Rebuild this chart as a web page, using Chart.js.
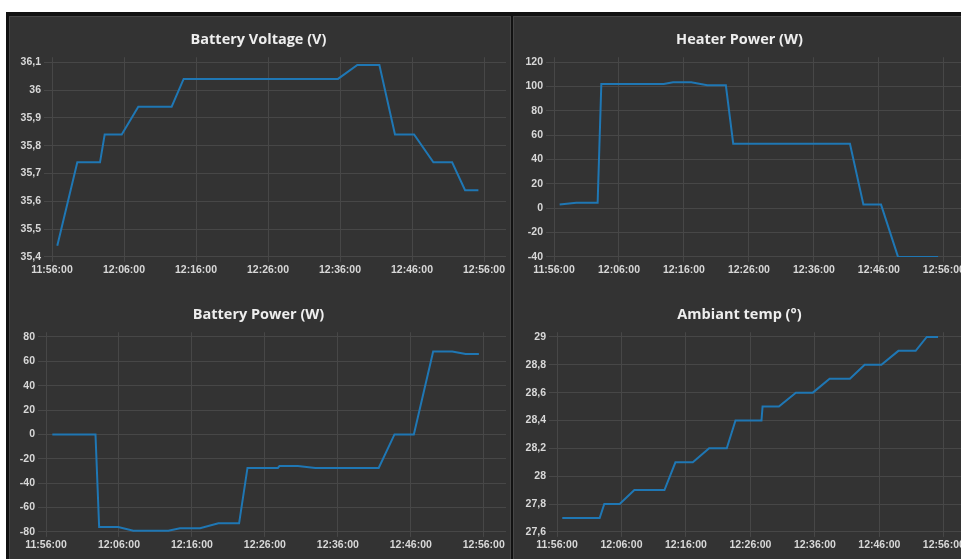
<!DOCTYPE html>
<html>
<head>
<meta charset="utf-8">
<script src="https://cdn.jsdelivr.net/npm/chart.js@4.4.1/dist/chart.umd.min.js"></script>
<style>
  html, body { margin: 0; padding: 0; background: #fff; overflow: hidden; width: 961px; height: 559px; }
  #frame { position: absolute; left: 6px; top: 12px; width: 1000px; height: 600px; background: #111; }
  .panel { position: absolute; top: 4px; height: 600px; background: #333; border: 1px solid #464646; box-sizing: border-box; }
  .box { position: absolute; }
</style>
</head>
<body>
<div id="frame">
  <div class="panel" style="left:3px; width:502px;"></div>
  <div class="panel" style="left:507px; width:456px;"></div>
</div>
<div class="box" style="left:11px; top:17px; width:498px; height:275px;"><canvas id="voltage"></canvas></div>
<div class="box" style="left:515px; top:17px; width:452px; height:275px;"><canvas id="heater"></canvas></div>
<div class="box" style="left:11px; top:292px; width:498px; height:275px;"><canvas id="power"></canvas></div>
<div class="box" style="left:515px; top:292px; width:452px; height:275px;"><canvas id="ambiant"></canvas></div>
<script>
// time ticks shared by all four charts
var xTicks = ['11:56:00', '12:06:00', '12:16:00', '12:26:00', '12:36:00', '12:46:00', '12:56:00'];
var xEnd = '12:59:03';

// Battery Voltage (V)
var voltTimes = ['11:56:44', '11:59:31', '12:02:40', '12:03:19', '12:05:41', '12:07:59', '12:12:37', '12:14:17',
  '12:35:43', '12:38:24', '12:41:28', '12:43:38', '12:46:17', '12:48:58', '12:51:34', '12:53:22', '12:55:13'];
var voltValues = [35.44, 35.74, 35.74, 35.84, 35.84, 35.94, 35.94, 36.04,
  36.04, 36.09, 36.09, 35.84, 35.84, 35.74, 35.74, 35.64, 35.64];
var voltTicks = [35.4, 35.5, 35.6, 35.7, 35.8, 35.9, 36, 36.1];

// Heater Power (W)
var heatTimes = ['11:56:52', '11:59:26', '12:02:43', '12:03:17', '12:12:53', '12:14:20', '12:17:07', '12:19:35',
  '12:22:27', '12:23:35', '12:41:33', '12:43:37', '12:46:20', '12:48:57', '12:55:07'];
var heatValues = [3, 4.4, 4.4, 102, 102, 103.5, 103.5, 101, 101, 53, 53, 3, 3, -40, -40];
var heatTicks = [-40, -20, 0, 20, 40, 60, 80, 100, 120];

// Battery Power (W)
var powTimes = ['11:56:52', '12:02:47', '12:03:17', '12:05:54', '12:07:58', '12:12:46', '12:14:22', '12:17:07',
  '12:19:38', '12:22:28', '12:23:37', '12:27:47', '12:28:00', '12:30:32', '12:32:54', '12:41:36', '12:43:46',
  '12:46:25', '12:49:04', '12:51:41', '12:53:31', '12:55:20'];
var powValues = [0, 0, -76, -76, -79, -79, -77, -77, -73, -73, -27.5, -27.5, -26, -26, -27.5, -27.5, 0, 0, 68, 68, 66, 66];
var powTicks = [-80, -60, -40, -20, 0, 20, 40, 60, 80];

// Ambiant temp (°)
var tempTimes = ['11:56:49', '12:02:37', '12:03:20', '12:05:43', '12:08:00', '12:12:40', '12:14:22', '12:17:04',
  '12:19:36', '12:22:20', '12:23:41', '12:27:43', '12:27:53', '12:30:25', '12:33:03', '12:35:41', '12:38:17',
  '12:41:26', '12:43:43', '12:46:19', '12:48:57', '12:51:38', '12:53:21', '12:55:06'];
var tempValues = [27.7, 27.7, 27.8, 27.8, 27.9, 27.9, 28.1, 28.1, 28.2, 28.2, 28.4, 28.4, 28.5, 28.5,
  28.6, 28.6, 28.7, 28.7, 28.8, 28.8, 28.9, 28.9, 29, 29];
var tempTicks = [27.6, 27.8, 28, 28.2, 28.4, 28.6, 28.8, 29];

// minutes since the first x tick
function toMin(t) {
  var p = t.split(':');
  var s = (+p[0]) * 3600 + (+p[1]) * 60 + (+p[2]);
  var q = xTicks[0].split(':');
  var s0 = (+q[0]) * 3600 + (+q[1]) * 60 + (+q[2]);
  return (s - s0) / 60;
}

var gridColor = '#474747';
var tickColor = '#d8d8d8';
var tickFont = { family: 'Liberation Sans', size: 10.5, weight: 'bold' };

function makeChart(id, title, times, values, yTicks, yDecimals, axisWidth, topGap) {
  var pts = times.map(function (t, i) { return { x: toMin(t), y: values[i] }; });
  var yMin = yTicks[0];
  var yMax = yTicks[yTicks.length - 1] + topGap;
  return new Chart(document.getElementById(id), {
    type: 'line',
    data: {
      datasets: [{
        data: pts,
        borderColor: '#1f77b4',
        borderWidth: 2,
        pointRadius: 0,
        tension: 0,
        fill: false
      }]
    },
    options: {
      responsive: true,
      maintainAspectRatio: false,
      animation: false,
      layout: { padding: { top: 2, right: 3, bottom: 13.5, left: 0 } },
      plugins: {
        legend: { display: false },
        tooltip: { enabled: false },
        title: {
          display: true,
          text: title,
          color: '#eeeeee',
          font: { family: 'Open Sans', size: 14.5, weight: 'bold' },
          padding: { top: 12.4, bottom: 8.4 }
        }
      },
      scales: {
        x: {
          type: 'linear',
          min: 0,
          max: toMin(xEnd),
          afterBuildTicks: function (scale) {
            scale.ticks = xTicks.map(function (t) { return { value: toMin(t) }; });
          },
          ticks: {
            color: tickColor,
            font: tickFont,
            maxRotation: 0,
            padding: 2,
            callback: function (v) {
              for (var i = 0; i < xTicks.length; i++) {
                if (Math.abs(toMin(xTicks[i]) - v) < 0.01) return xTicks[i];
              }
              return '';
            }
          },
          grid: { color: gridColor, tickLength: 5 },
          border: { display: false }
        },
        y: {
          min: yMin,
          max: yMax,
          afterBuildTicks: function (scale) {
            scale.ticks = yTicks.map(function (v) { return { value: v }; });
          },
          afterFit: function (scale) { scale.width = axisWidth; },
          ticks: {
            color: tickColor,
            font: tickFont,
            padding: 3,
            callback: function (v) {
              return (+v.toFixed(yDecimals)).toString().replace('.', ',');
            }
          },
          grid: { color: gridColor, tickLength: 8 },
          border: { display: false }
        }
      }
    }
  });
}

makeChart('voltage', 'Battery Voltage (V)', voltTimes, voltValues, voltTicks, 1, 41, 0.018);
makeChart('heater', 'Heater Power (W)', heatTimes, heatValues, heatTicks, 0, 39, 4.1);
makeChart('power', 'Battery Power (W)', powTimes, powValues, powTicks, 0, 35, 3.9);
makeChart('ambiant', 'Ambiant temp (°)', tempTimes, tempValues, tempTicks, 1, 42, 0.034);
</script>
</body>
</html>
